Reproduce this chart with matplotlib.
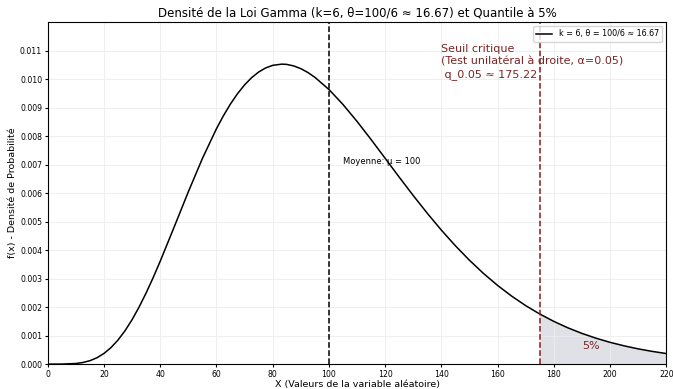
import matplotlib.pyplot as plt

# valeurs (densité Gamma k=6, theta=100/6)
x_vals = [0, 5, 10, 12.5, 15, 17.5, 20, 22.5, 25, 27.5, 30, 32.5, 35, 37.5, 40, 45,
          50, 55, 60, 62.5, 65, 67.5, 70, 72.5, 75, 77.5, 80, 83.3, 85, 87.5, 90,
          92.5, 95, 100, 105, 110, 115, 120, 125, 130, 135, 140, 145, 150, 155,
          160, 165, 170, 175, 175.22, 180, 185, 190, 195, 200, 205, 210, 215, 220]
y_vals = [0.0, 0.0000009, 0.0000213, 0.000056, 0.000120, 0.000223, 0.000375,
          0.000581, 0.000847, 0.001174, 0.001562, 0.002006, 0.002500, 0.003039,
          0.003612, 0.004822, 0.006049, 0.007217, 0.008261, 0.008720, 0.009132,
          0.009492, 0.009799, 0.010052, 0.010250, 0.010394, 0.010485, 0.010528,
          0.010518, 0.010464, 0.010369, 0.010235, 0.010066, 0.009638, 0.009112,
          0.008518, 0.007881, 0.007223, 0.006562, 0.005915, 0.005292, 0.004702,
          0.004152, 0.003644, 0.003180, 0.002761, 0.002386, 0.002052, 0.001757,
          0.001746, 0.001499, 0.001273, 0.001078, 0.000909, 0.000764, 0.000641,
          0.000535, 0.000446, 0.000371]
mean_val = 100
q_val = 175.22

fig, ax = plt.subplots(figsize=(6.73, 3.89), dpi=100)
fig.subplots_adjust(left=0.071, right=0.99, top=0.943, bottom=0.064)

ax.plot(x_vals, y_vals, color='black', lw=1.1, label='k = 6, θ = 100/6 ≈ 16.67')

tail_x = [x for x in x_vals if x >= q_val]
tail_y = [y for x, y in zip(x_vals, y_vals) if x >= q_val]
ax.fill_between(tail_x, tail_y, color='#dfe1e6')

ax.axvline(mean_val, color='black', ls='--', lw=1.1)
ax.axvline(q_val, color='#8b1a1a', ls='--', lw=1.1)

ax.text(105, 0.00712, 'Moyenne: μ = 100', fontsize=6, va='center')
ax.text(140, 0.01123, 'Seuil critique\n(Test unilatéral à droite, α=0.05)\n q_0.05 ≈ 175.22',
        fontsize=8, color='#7a2424', va='top', linespacing=1.3)
ax.text(193.3, 0.00063, '5%', fontsize=8, color='#7a2424', ha='center', va='center')

ax.set_xlim(0, 220)
ax.set_ylim(0, 0.012)
ax.set_xticks(range(0, 221, 20))
ax.set_yticks([i * 0.001 for i in range(12)])
ax.yaxis.set_major_formatter(plt.FormatStrFormatter('%.3f'))
ax.tick_params(labelsize=5.6, length=2.5, pad=1.5)
ax.grid(True, color='#ececec', lw=0.6)

ax.set_title('Densité de la Loi Gamma (k=6, θ=100/6 ≈ 16.67) et Quantile à 5%', fontsize=8.5, pad=4)
ax.set_xlabel('X (Valeurs de la variable aléatoire)', fontsize=6.8, labelpad=1)
ax.set_ylabel('f(x) - Densité de Probabilité', fontsize=6.8, labelpad=2)
ax.legend(loc='upper right', fontsize=5.8)

fig.savefig('out.png', dpi=100)
